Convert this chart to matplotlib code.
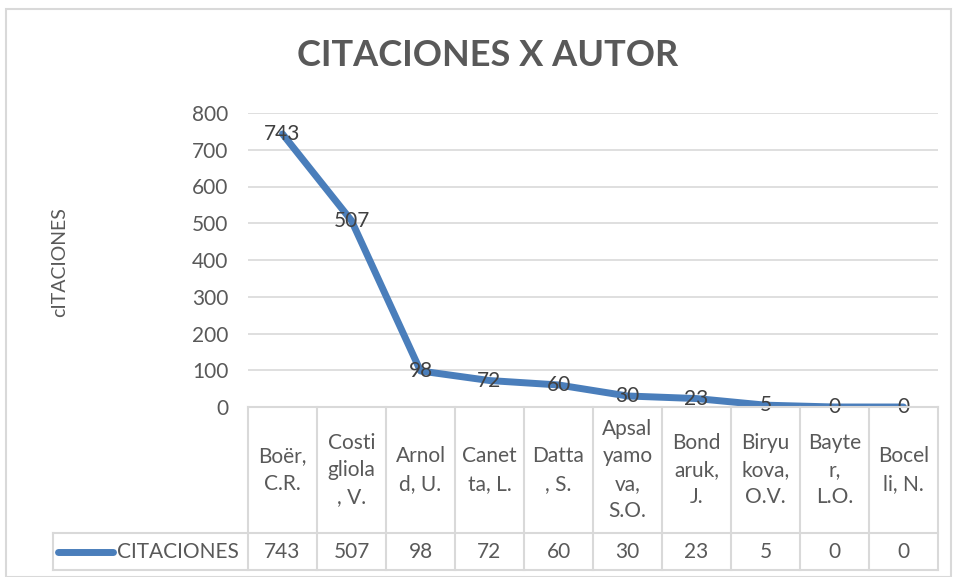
import matplotlib.pyplot as plt
from matplotlib.patches import Rectangle
from matplotlib.lines import Line2D

autores = ["Boër,\nC.R.", "Costi\ngliola\n, V.", "Arnol\nd, U.", "Canet\nta, L.", "Datta\n, S.",
           "Apsal\nyamo\nva,\nS.O.", "Bond\naruk,\nJ.", "Biryu\nkova,\nO.V.", "Bayte\nr,\nL.O.", "Bocel\nli, N."]
citaciones = [743, 507, 98, 72, 60, 30, 23, 5, 0, 0]
yticks = [0, 100, 200, 300, 400, 500, 600, 700, 800]

plt.rcParams['font.family'] = ['Lato', 'DejaVu Sans']
W, H = 956, 577
fig = plt.figure(figsize=(W / 100, H / 100), dpi=100)

def rect(x0, y0, x1, y1):
    return [x0 / W, 1 - y1 / H, (x1 - x0) / W, (y1 - y0) / H]

txt = '#595959'
grid = '#d9d9d9'
blue = '#4a7ebb'

# outer chart border
fig.patches.append(Rectangle((6 / W, 0), 945 / W, 1 - 9 / H, transform=fig.transFigure,
                             fill=False, edgecolor='#d9d9d9', lw=1.5))

fig.text(488 / W, 1 - 56 / H, 'CITACIONES X AUTOR', ha='center', va='center',
         fontsize=26, fontweight='bold', color=txt)
fig.text(60 / W, 1 - 262 / H, 'cITACIONES', rotation=90, ha='center', va='center',
         fontsize=14, color=txt)

ax = fig.add_axes(rect(248, 113, 938, 407))
x = list(range(len(citaciones)))
ax.plot(x, citaciones, color=blue, lw=5, solid_joinstyle='round', solid_capstyle='round', zorder=3)
for xi, v in zip(x, citaciones):
    ax.text(xi, v, str(v), ha='center', va='center', fontsize=15, color='#404040', zorder=4)
ax.set_xlim(-0.5, len(citaciones) - 0.5)
ax.set_ylim(0, 800)
ax.set_yticks(yticks)
ax.set_xticks([])
ax.tick_params(axis='y', length=0, pad=14, labelsize=15, labelcolor=txt)
for y in yticks[1:]:
    ax.axhline(y, color=grid, lw=1.2, zorder=1)
for s in ax.spines.values():
    s.set_visible(False)
ax.patch.set_alpha(0)

# data table
legw = 195 / 69
tb = fig.add_axes(rect(53, 407, 938, 570))
tb.set_xlim(-0.5 - legw, len(citaciones) - 0.5)
tb.set_ylim(0, 163)
tb.axis('off')
lc = '#d9d9d9'
tb.plot([-0.5, len(citaciones) - 0.5], [163, 163], color=lc, lw=1.5, clip_on=False)
tb.plot([-0.5 - legw, len(citaciones) - 0.5], [37, 37], color=lc, lw=1.5, clip_on=False)
tb.plot([-0.5 - legw, len(citaciones) - 0.5], [0, 0], color=lc, lw=1.5, clip_on=False)
tb.plot([-0.5 - legw, -0.5 - legw], [0, 37], color=lc, lw=1.5, clip_on=False)
for i in range(len(citaciones) + 1):
    tb.plot([i - 0.5, i - 0.5], [0, 163], color=lc, lw=1.5, clip_on=False)
for i, (a, v) in enumerate(zip(autores, citaciones)):
    tb.text(i, 100, a, ha='center', va='center', fontsize=15, color=txt, linespacing=1.45)
    tb.text(i, 18.5, str(v), ha='center', va='center', fontsize=15, color=txt)
tb.add_line(Line2D([-0.5 - legw + 5 / 69, -0.5 - legw + 60 / 69], [18.5, 18.5], color=blue,
                   lw=5, solid_capstyle='round'))
tb.text(-0.5 - legw + 64 / 69, 18.5, 'CITACIONES', ha='left', va='center', fontsize=15, color=txt)

fig.savefig('out.png', dpi=100)
